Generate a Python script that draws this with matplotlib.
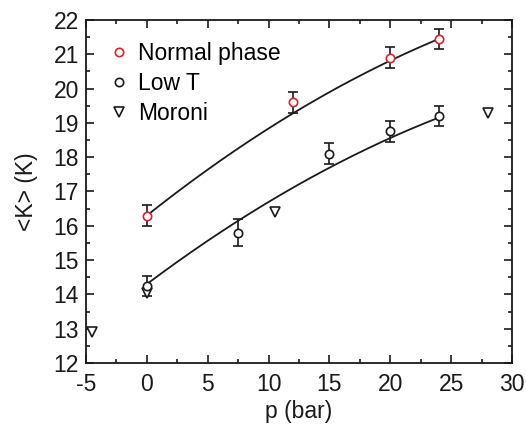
import numpy as np
import matplotlib
matplotlib.use("Agg")
import matplotlib.pyplot as plt

plt.rcParams['font.family'] = ['Liberation Sans', 'DejaVu Sans']
plt.rcParams['axes.unicode_minus'] = False

# Normal phase data
p_normal = [0, 12, 20, 24]
k_normal = [16.3, 19.6, 20.9, 21.45]
err_normal = [0.3, 0.3, 0.3, 0.3]

# Low temperature data
p_low = [0, 7.5, 15, 20, 24]
k_low = [14.25, 15.8, 18.1, 18.75, 19.2]
err_low = [0.3, 0.4, 0.3, 0.3, 0.3]

# Moroni values
p_moroni = [-4.5, 0, 10.5, 28]
k_moroni = [12.9, 14.03, 16.4, 19.3]

# Quadratic fit coefficients (c0, c1, c2)
fit_normal = [16.3, 0.2818, -0.0028]
fit_low = [14.3, 0.266, -0.00265]

red = '#e0202a'
ink = '#1a1a1a'
fs = 16.5

fig = plt.figure(figsize=(5.26, 4.24), dpi=100)
ax = fig.add_axes([0.1635, 0.1439, 0.8099, 0.8089])

pp = np.linspace(0, 24, 200)
for c in (fit_normal, fit_low):
    ax.plot(pp, c[0] + c[1] * pp + c[2] * pp ** 2, color=ink, lw=1.3, zorder=2)

ax.errorbar(p_normal, k_normal, yerr=err_normal, fmt='none', ecolor=ink,
            elinewidth=1.2, capsize=3.5, capthick=1.2, zorder=3)
ax.errorbar(p_low, k_low, yerr=err_low, fmt='none', ecolor=ink,
            elinewidth=1.2, capsize=3.5, capthick=1.2, zorder=3)

ax.plot(p_moroni, k_moroni, ls='none', marker='v', ms=7, mfc='white', mec=ink,
        mew=1.2, label='Moroni', zorder=3)
ax.plot(p_normal, k_normal, ls='none', marker='o', ms=6, mfc='white', mec=red,
        mew=1.2, label='Normal phase', zorder=4)
ax.plot(p_low, k_low, ls='none', marker='o', ms=6, mfc='white', mec=ink,
        mew=1.2, label='Low T', zorder=4)

handles, labels = ax.get_legend_handles_labels()
order = [1, 2, 0]
ax.legend([handles[i] for i in order], [labels[i] for i in order],
          loc='upper left', bbox_to_anchor=(0.034, 0.963), frameon=False,
          fontsize=fs, handlelength=0.8, handletextpad=0.45, labelspacing=0.3,
          borderaxespad=0)

ax.set_xlim(-5, 30)
ax.set_ylim(12, 22)
ax.set_xticks(np.arange(-5, 31, 5))
ax.set_xticks(np.arange(-2.5, 30, 5), minor=True)
ax.set_yticks(np.arange(12, 23, 1))
ax.set_yticks(np.arange(12.5, 22, 1), minor=True)
ax.tick_params(which='both', direction='in', top=True, right=True, width=1.2,
               labelsize=fs, colors=ink)
ax.tick_params(which='major', length=5.5)
ax.tick_params(which='minor', length=3)
ax.tick_params(axis='x', pad=7)
ax.tick_params(axis='y', pad=5)
for s in ax.spines.values():
    s.set_linewidth(1.3)
    s.set_color(ink)

ax.set_xlabel('p (bar)', fontsize=fs, color=ink, labelpad=3)
ax.set_ylabel('<K> (K)', fontsize=fs, color=ink, labelpad=11)

fig.savefig('out.png', dpi=100)
